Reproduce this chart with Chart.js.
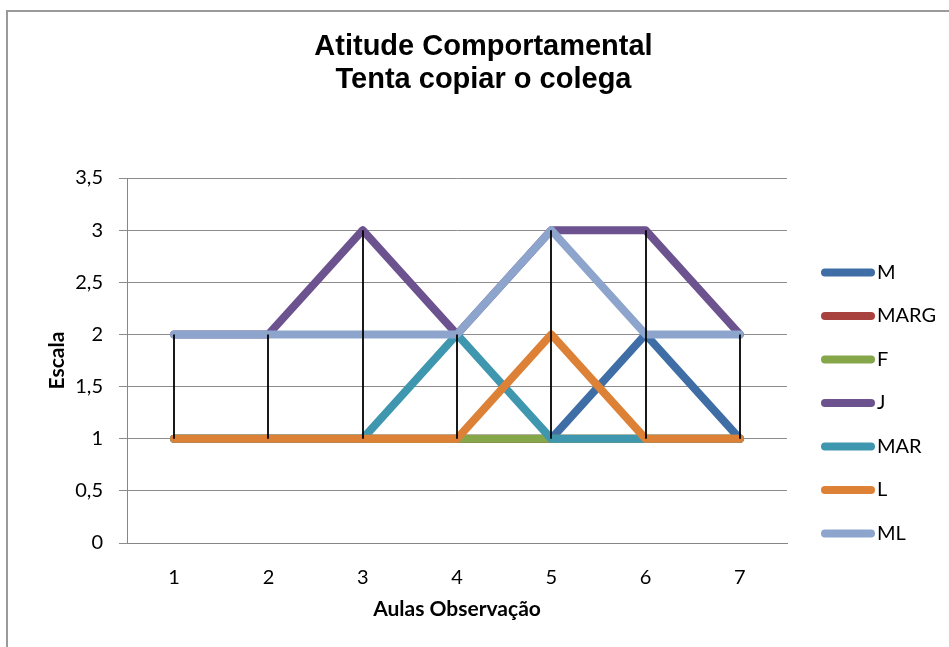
<!DOCTYPE html>
<html>
<head>
<meta charset="utf-8">
<script src="https://cdn.jsdelivr.net/npm/chart.js@4.4.1/dist/chart.umd.min.js"></script>
<style>
  html, body { margin: 0; padding: 0; background: #fff; }
  canvas { display: block; }
</style>
</head>
<body>
<canvas id="chart" width="949" height="647"></canvas>
<script>
// Chart text
const titleLines = ['Atitude Comportamental', 'Tenta copiar o colega'];
const xAxisTitle = 'Aulas Observação';
const yAxisTitle = 'Escala';

// Lessons observed (categories) and y-axis tick labels
const categories = ['1', '2', '3', '4', '5', '6', '7'];
const yTickLabels = ['0', '0,5', '1', '1,5', '2', '2,5', '3', '3,5'];

// One score series per student
const seriesNames = ['M', 'MARG', 'F', 'J', 'MAR', 'L', 'ML'];
const M    = [1, 1, 1, 1, 1, 2, 1];
const MARG = [1, 1, 1, 1, 1, 1, 1];
const F    = [1, 1, 1, 1, 1, 1, 1];
const J    = [2, 2, 3, 2, 3, 3, 2];
const MAR  = [1, 1, 1, 2, 1, 1, 1];
const L    = [1, 1, 1, 1, 2, 1, 1];
const ML   = [2, 2, 2, 2, 3, 2, 2];
const seriesValues = [M, MARG, F, J, MAR, L, ML];
const seriesColors = ['#3F6EA6', '#A8423F', '#86A64A', '#6C528E', '#3E97AE', '#DD8136', '#8DA5CC'];

const FONT = 'Lato';
Chart.defaults.font.family = FONT;

// Grey outline around the whole chart object
const framePlugin = {
  id: 'frame',
  beforeDraw(chart) {
    const ctx = chart.ctx;
    ctx.save();
    ctx.fillStyle = '#ffffff';
    ctx.fillRect(0, 0, chart.width, chart.height);
    ctx.strokeStyle = '#9a9a9a';
    ctx.lineWidth = 2;
    ctx.strokeRect(7, 11, chart.width + 20, chart.height + 20);
    ctx.restore();
  }
};

// Two-line heading, centred on the chart object
const headingPlugin = {
  id: 'heading',
  afterDraw(chart) {
    const ctx = chart.ctx;
    ctx.save();
    ctx.fillStyle = '#000';
    ctx.font = 'bold 29px "Liberation Sans", Arial, sans-serif';
    ctx.textAlign = 'center';
    ctx.textBaseline = 'middle';
    titleLines.forEach((line, i) => ctx.fillText(line, 483.5, 47 + i * 33));
    ctx.restore();
  }
};

// High-low lines: thin black line from the lowest to the highest value of each lesson
const hiLoPlugin = {
  id: 'hiLo',
  afterDatasetsDraw(chart) {
    const {ctx, scales: {x, y}} = chart;
    const sets = chart.data.datasets;
    ctx.save();
    ctx.strokeStyle = '#000';
    ctx.lineWidth = 1.8;
    categories.forEach((c, i) => {
      const vals = sets.map(d => d.data[i]);
      const lo = Math.min(...vals), hi = Math.max(...vals);
      if (hi === lo) return;
      const px = Math.round(x.getPixelForValue(i));
      ctx.beginPath();
      ctx.moveTo(px, y.getPixelForValue(hi));
      ctx.lineTo(px, y.getPixelForValue(lo));
      ctx.stroke();
    });
    ctx.restore();
  }
};

// Legend column on the right: line sample plus series name
const sideLegendPlugin = {
  id: 'sideLegend',
  afterDraw(chart) {
    const ctx = chart.ctx;
    ctx.save();
    ctx.font = '20px ' + FONT;
    ctx.textBaseline = 'middle';
    ctx.textAlign = 'left';
    chart.data.datasets.forEach((ds, i) => {
      const yy = 272.5 + i * 43.5;
      ctx.strokeStyle = ds.borderColor;
      ctx.lineWidth = 8;
      ctx.lineCap = 'round';
      ctx.beginPath();
      ctx.moveTo(825, yy);
      ctx.lineTo(871, yy);
      ctx.stroke();
      ctx.fillStyle = '#000';
      ctx.fillText(ds.label, 877, yy);
    });
    ctx.restore();
  }
};

const datasets = seriesNames.map((name, i) => ({
  label: name,
  data: seriesValues[i],
  borderColor: seriesColors[i],
  backgroundColor: seriesColors[i],
  borderWidth: 8,
  borderCapStyle: 'round',
  borderJoinStyle: 'round',
  pointRadius: 0,
  pointHoverRadius: 0,
  tension: 0,
  fill: false,
  // later series are painted over earlier ones
  order: seriesNames.length - i
}));

new Chart(document.getElementById('chart'), {
  type: 'line',
  data: { labels: categories, datasets },
  options: {
    responsive: false,
    animation: false,
    events: [],
    layout: { padding: { top: 178, right: 162, bottom: 0, left: 0 } },
    plugins: {
      legend: { display: false },
      title: { display: false },
      tooltip: { enabled: false }
    },
    scales: {
      x: {
        type: 'category',
        offset: true,
        grid: { display: false },
        border: { display: true, color: '#868686', width: 1 },
        ticks: { color: '#000', font: { size: 20 }, padding: 15, maxRotation: 0 },
        title: {
          display: true, text: xAxisTitle, color: '#000',
          font: { size: 21, weight: 'bold' }, padding: { top: 0, bottom: 25 }
        },
        afterFit(scale) { scale.height = 104; }
      },
      y: {
        min: 0,
        max: 3.5,
        ticks: {
          stepSize: 0.5,
          color: '#000',
          font: { size: 20 },
          padding: 16,
          callback: (v) => yTickLabels[Math.round(v / 0.5)]
        },
        grid: { color: '#8c8c8c', lineWidth: 1, drawTicks: true, tickLength: 8 },
        border: { display: true, color: '#868686', width: 1 },
        title: {
          display: true, text: yAxisTitle, color: '#000',
          font: { size: 21, weight: 'bold' }, padding: { top: 45, bottom: 0 }
        },
        afterFit(scale) { scale.width = 127; }
      }
    }
  },
  plugins: [framePlugin, headingPlugin, hiLoPlugin, sideLegendPlugin]
});
</script>
</body>
</html>
